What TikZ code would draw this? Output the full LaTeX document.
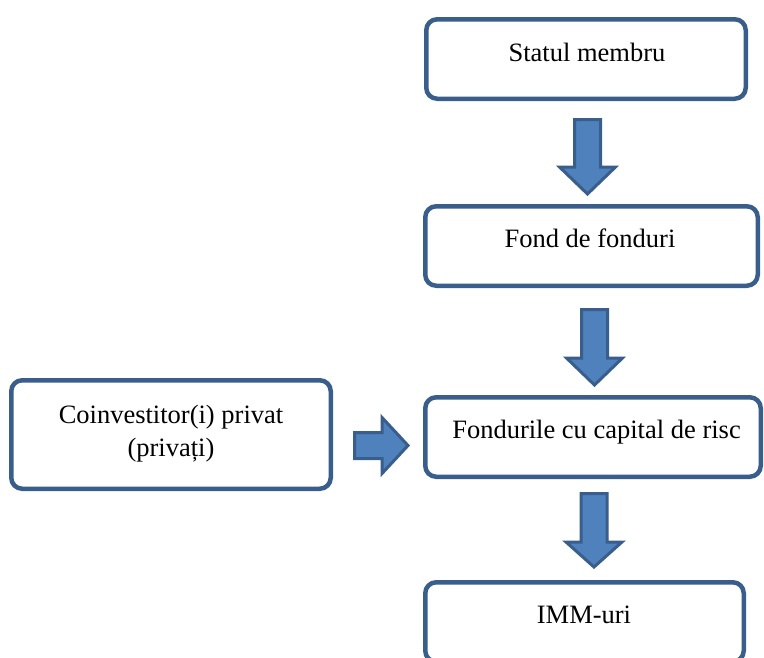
\documentclass[tikz,border=0pt]{standalone}
\usepackage{fontspec}
\setmainfont{Liberation Serif}
\definecolor{edgeblue}{HTML}{3A5E8B}
\definecolor{fillblue}{HTML}{4F81BD}
\tikzset{
  box/.style={draw=edgeblue, line width=4.5pt, rounded corners=11pt,
    rectangle, inner sep=0pt, fill=white},
  lbl/.style={inner sep=0pt, anchor=base,
    font=\fontsize{26.5}{33}\selectfont},
  barrow/.style={draw=edgeblue, fill=fillblue, line width=3pt, line join=miter},
  % block arrow pointing along +x: total length #1, head starts at #2
  pics/blockarrow/.style args={#1/#2}{code={
    \draw[barrow] (0,-13) -- (#2,-13) -- (#2,-28) -- (#1,0)
      -- (#2,28) -- (#2,13) -- (0,13) -- cycle;
  }}
}
\begin{document}
\begin{tikzpicture}[x=1pt,y=-1pt]
\useasboundingbox (0,0) rectangle (764,657);

% boxes
\node[box, minimum width=319.5pt, minimum height=79.5pt] (stat) at (586,59) {};
\node[box, minimum width=332.5pt, minimum height=79.5pt] (fof) at (591.5,246) {};
\node[box, minimum width=335.5pt, minimum height=79.5pt] (vc) at (593,437) {};
\node[box, minimum width=319.5pt, minimum height=108.5pt] (coinv) at (171,434.5) {};
\node[box, minimum width=318.5pt, minimum height=79.5pt] (imm) at (584.5,622) {};

% labels
\node[lbl] (tstat) at (587,61) {Statul membru};
\node[lbl] (tfof) at (590,247) {Fond de fonduri};
\node[lbl] (tvc) at (596.5,438) {Fondurile cu capital de risc};
\node[lbl] (tcoinv) at (171,423) {Coinvestitor(i) privat};
\node[lbl] (tcoinvb) at (171,456) {(privați)};
\node[lbl] (timm) at (584,623) {IMM-uri};

% block arrows
\pic[rotate=-90] (a1) at (587.5,119.5) {blockarrow=74.5/47.5};
\pic[rotate=-90] (a2) at (594.5,309.5) {blockarrow=75.5/48.5};
\pic[rotate=-90] (a3) at (594,493.5) {blockarrow=73.5/48.5};
\pic (a4) at (354.5,445.5) {blockarrow=53.5/27.5};
\end{tikzpicture}
\end{document}
